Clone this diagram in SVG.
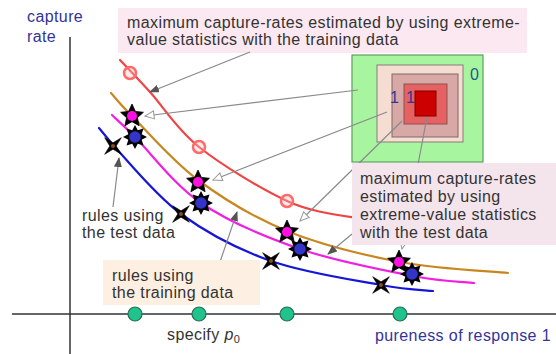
<svg xmlns="http://www.w3.org/2000/svg" width="556" height="354" viewBox="0 0 556 354">
  <style>
    .lbl { font-family: "Liberation Sans", Arial, sans-serif; font-size: 16px; letter-spacing: 0.4px; fill: #333; }
    .axis-lbl { fill: #33339a; }
    .axis { stroke: #333; stroke-width: 1.5; fill: none; }
    .curve { fill: none; stroke-width: 2.2; stroke-linecap: round; }
    .lead { stroke: #8a8a8a; stroke-width: 1.2; fill: none; }
    .dot { fill: #1ec48c; stroke: #2b6b52; stroke-width: 1.2; }
    .ring { fill: #ffc4c4; fill-opacity: 0.35; stroke: #ff6b6b; stroke-width: 2.5; }
  </style>
  <defs>
    <marker id="ah" markerWidth="10" markerHeight="8" refX="9" refY="4" orient="auto" markerUnits="userSpaceOnUse">
      <path d="M0,0 L10,4 L0,8 z" fill="#555"/>
    </marker>
    <marker id="ao" markerWidth="12" markerHeight="10" refX="10" refY="5" orient="auto" markerUnits="userSpaceOnUse">
      <path d="M1,1 L10,5 L1,9 z" fill="#fff" stroke="#999" stroke-width="1"/>
    </marker>
    <g id="star5">
      <polygon points="0,-12 3.4,-4.6 11.4,-3.7 5.4,1.7 7.1,9.7 0,5.7 -7.1,9.7 -5.4,1.7 -11.4,-3.7 -3.4,-4.6" fill="#000" stroke="#000" stroke-width="0.8" stroke-linejoin="round"/>
      <circle r="5" fill="#ff10e0"/>
    </g>
    <g id="star8">
      <polygon points="0,-12 2.76,-6.66 8.49,-8.49 6.66,-2.76 12,0 6.66,2.76 8.49,8.49 2.76,6.66 0,12 -2.76,6.66 -8.49,8.49 -6.66,2.76 -12,0 -6.66,-2.76 -8.49,-8.49 -2.76,-6.66" fill="#000"/>
      <circle r="5.8" fill="#3434c8"/>
    </g>
    <g id="cross4">
      <polygon points="0,-3.2 8.3,-8.3 3.2,0 8.3,8.3 0,3.2 -8.3,8.3 -3.2,0 -8.3,-8.3" fill="#000" stroke="#000" stroke-width="0.6" stroke-linejoin="round"/>
      <circle r="2" fill="#8b4a22"/>
    </g>
  </defs>

  <rect width="556" height="354" fill="#fff"/>

  <!-- axes -->
  <g id="axes">
    <line class="axis" x1="70" y1="37" x2="70" y2="354"/>
    <line class="axis" x1="12" y1="314" x2="556" y2="314"/>
    <text class="lbl axis-lbl" x="27" y="22">capture</text>
    <text class="lbl axis-lbl" x="27" y="42">rate</text>
    <text class="lbl axis-lbl" x="375" y="341">pureness of response 1</text>
    <text class="lbl" x="167" y="340">specify <tspan font-style="italic">p</tspan><tspan font-size="11" dy="3">0</tspan></text>
    <circle class="dot" cx="135" cy="314" r="7"/>
    <circle class="dot" cx="199" cy="314" r="7"/>
    <circle class="dot" cx="287" cy="314" r="7"/>
    <circle class="dot" cx="400" cy="314" r="7"/>
  </g>

  <!-- top label -->
  <g id="label-train-max">
    <rect x="118" y="8" width="409" height="45" fill="#fbe8f0"/>
    <text class="lbl" x="127" y="28">maximum capture-rates estimated by using extreme-</text>
    <text class="lbl" x="127" y="45">value statistics with the training data</text>
  </g>

  <!-- capture-rate curves -->
  <g id="curves">
    <path class="curve" stroke="#f04444" d="M120,60 C125,65.3 136.8,77.5 150,92 C163.2,106.5 176.2,128.8 199,147 C221.8,165.2 261.5,189.2 287,201 C312.5,212.8 341.2,215.2 370,220"/>
    <path class="curve" stroke="#c8861e" d="M111,93 C114.5,96.8 117.5,101.5 132,116 C146.5,130.5 172.2,160.8 198,180 C223.8,199.2 253.3,217.3 287,231 C320.7,244.7 363.2,255 400,262 C436.8,269 490,271.2 508,273"/>
    <path class="curve" stroke="#f020e0" d="M112,115 C115.8,118.7 120.2,122.3 135,137 C149.8,151.7 173.5,184.3 201,203 C228.5,221.7 264.7,236.8 300,249 C335.3,261.2 384,270.3 413,276 C442,281.7 463.8,281.8 474,283"/>
    <path class="curve" stroke="#1616d8" d="M99,128 C103.7,133.7 108.3,139.3 113,145 C126.7,159.3 154.7,194.7 181,214 C207.3,233.3 237.7,249.2 271,261 C304.3,272.8 354,280 381,285 C408,290 424.3,290 433,291"/>
  </g>

  <!-- points on the curves -->
  <g id="points">
    <circle class="ring" cx="130" cy="73" r="6"/>
    <circle class="ring" cx="199" cy="147" r="6"/>
    <circle class="ring" cx="287" cy="201" r="6"/>
    <use href="#star5" x="132" y="116"/>
    <use href="#star5" x="198" y="182"/>
    <use href="#star5" x="287" y="232"/>
    <use href="#star5" x="399" y="262"/>
    <use href="#star8" x="135" y="137"/>
    <use href="#star8" x="201" y="203"/>
    <use href="#star8" x="300" y="249"/>
    <use href="#star8" x="412" y="274"/>
    <use href="#cross4" x="113" y="146"/>
    <use href="#cross4" x="181" y="214"/>
    <use href="#cross4" x="271" y="261"/>
    <use href="#cross4" x="381" y="285"/>
  </g>

  <!-- nested region boxes -->
  <g id="regions">
    <rect x="352" y="55" width="131" height="107" fill="#a8f5a0" stroke="#5e9e5e" stroke-width="1.2"/>
    <rect x="377" y="65" width="86" height="77" fill="#f6ddd2" stroke="#8a7a78" stroke-width="1"/>
    <rect x="392" y="74" width="66" height="63" fill="#d8a8a6" stroke="#7a6a6a" stroke-width="1"/>
    <rect x="404" y="84" width="43" height="40" fill="#e66262" stroke="#8a5050" stroke-width="1"/>
    <rect x="415" y="91" width="21" height="25" fill="#cc0000" stroke="#7a0000" stroke-width="1"/>
    <text class="lbl" x="470" y="80" style="fill:#1a5c8a">0</text>
    <text class="lbl" x="390" y="103" style="fill:#33339a">1</text>
    <text class="lbl" x="406" y="103" style="fill:#33339a">1</text>
  </g>

  <!-- leader lines -->
  <g id="connectors">
    <line class="lead" x1="250" y1="52" x2="150" y2="92" marker-end="url(#ah)"/>
    <line class="lead" x1="358" y1="90" x2="145" y2="116" marker-end="url(#ao)"/>
    <line class="lead" x1="387" y1="112" x2="213" y2="180" marker-end="url(#ao)"/>
    <line class="lead" x1="402" y1="121" x2="300" y2="221" marker-end="url(#ao)"/>
    <line class="lead" x1="427" y1="117" x2="402" y2="249" marker-end="url(#ao)"/>
    <line class="lead" x1="352" y1="234" x2="328" y2="254" marker-end="url(#ah)"/>
    <line class="lead" x1="113" y1="207" x2="119" y2="158" marker-end="url(#ah)"/>
    <line class="lead" x1="220" y1="262" x2="237" y2="212" marker-end="url(#ah)"/>
  </g>

  <!-- lower right label -->
  <g id="label-test-max">
    <rect x="352" y="163" width="204" height="82" fill="#f4e4ec"/>
    <text class="lbl" x="360" y="184">maximum capture-rates</text>
    <text class="lbl" x="360" y="202">estimated by using</text>
    <text class="lbl" x="360" y="220">extreme-value statistics</text>
    <text class="lbl" x="360" y="238">with the test data</text>
  </g>

  <!-- rules labels -->
  <g id="label-test-rules">
    <text class="lbl" x="82" y="221">rules using</text>
    <text class="lbl" x="82" y="238">the test data</text>
  </g>
  <g id="label-train-rules">
    <rect x="103" y="260" width="157" height="45" fill="#fdf0e2"/>
    <text class="lbl" x="112" y="281">rules using</text>
    <text class="lbl" x="112" y="298">the training data</text>
  </g>
</svg>
